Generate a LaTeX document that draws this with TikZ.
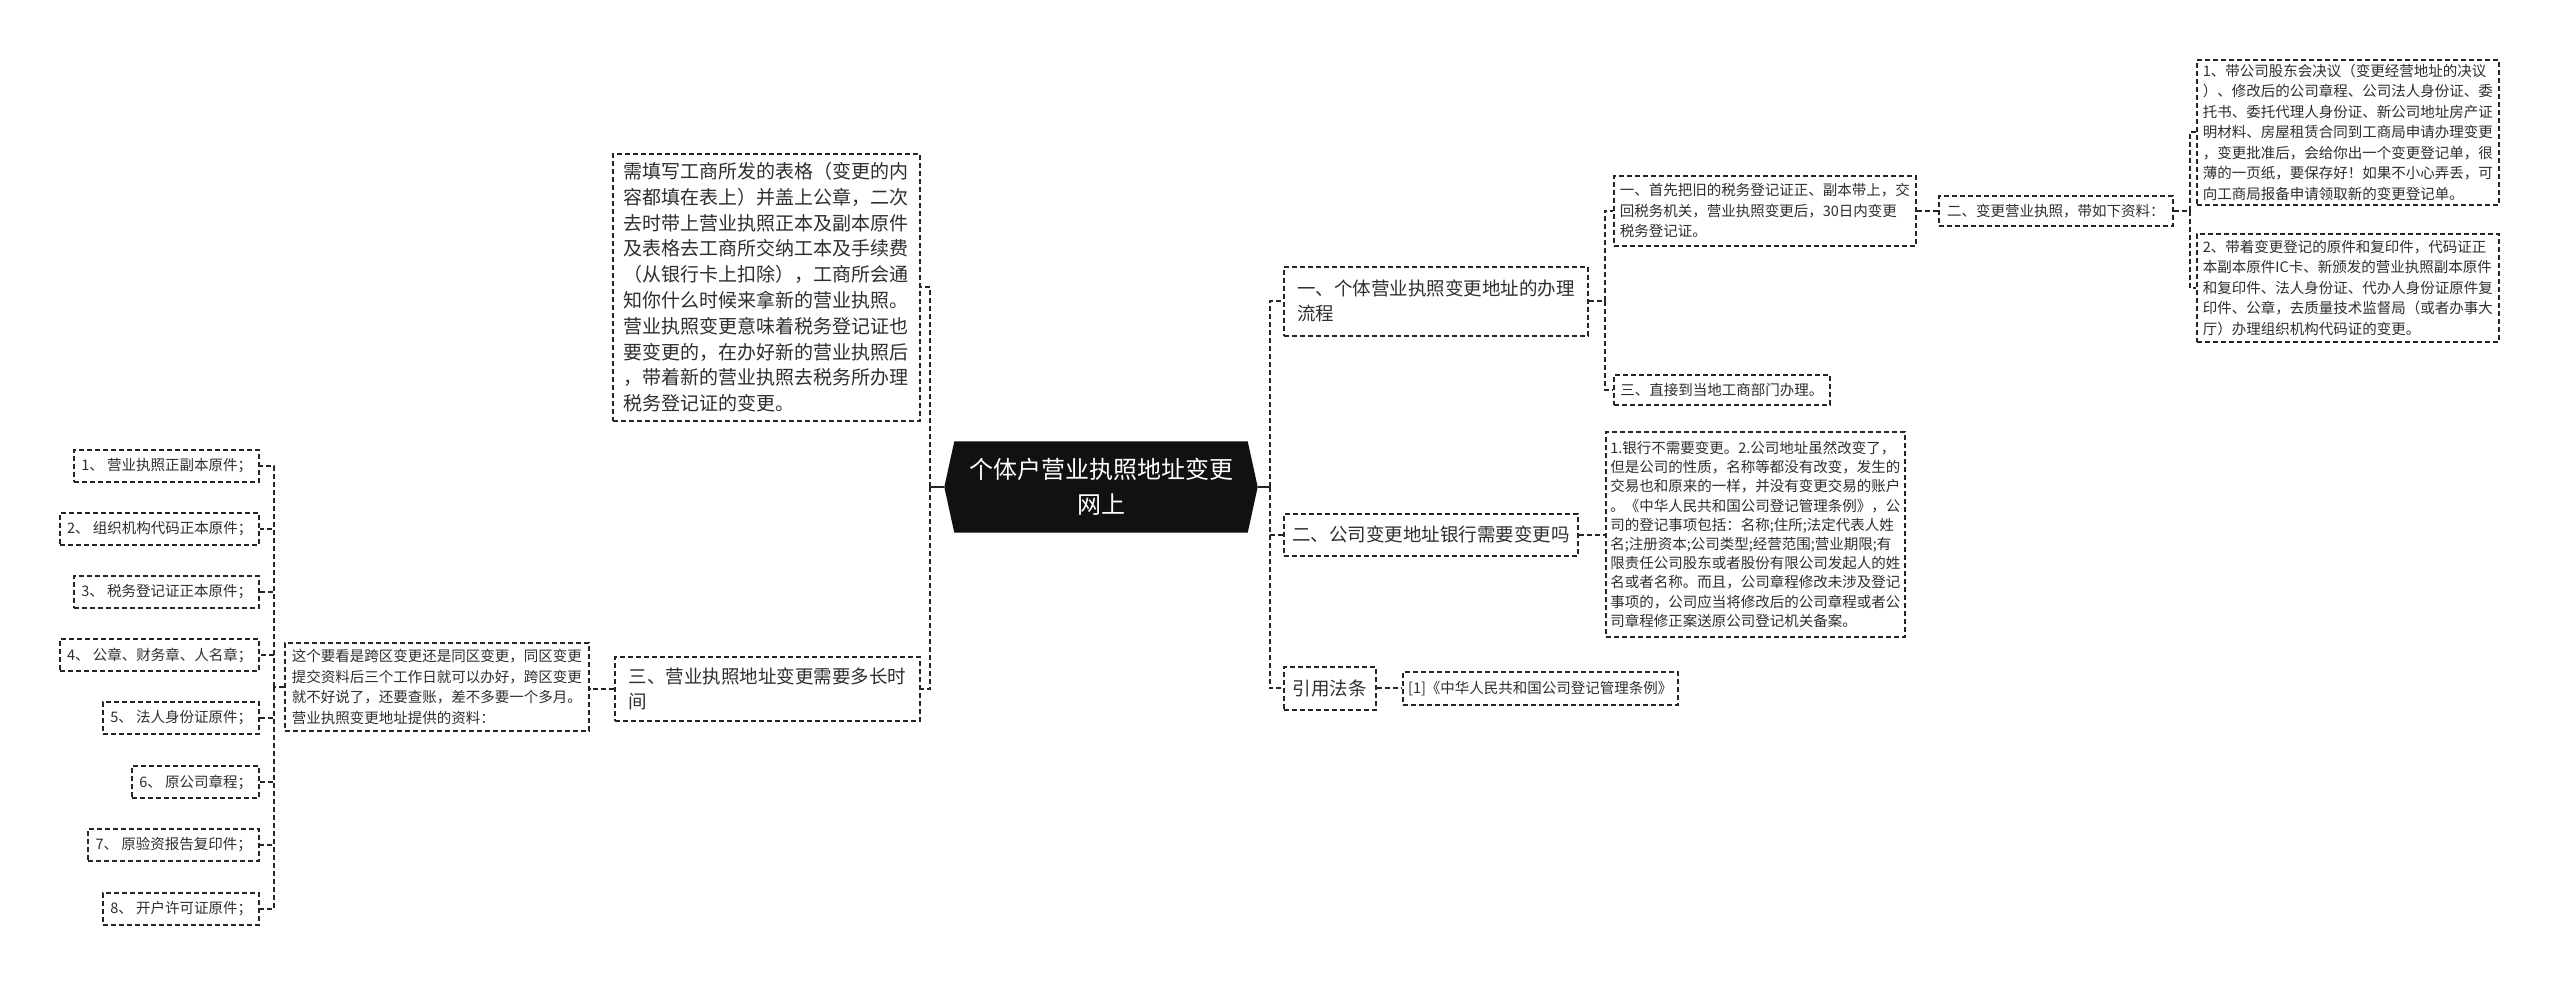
\documentclass[tikz,border=0pt]{standalone}
\usepackage{fontspec}
\setmainfont{Noto Sans CJK SC}
\usetikzlibrary{calc,backgrounds}
\definecolor{linec}{HTML}{262626}
\definecolor{textc}{HTML}{2E2E2E}
\definecolor{rootc}{HTML}{111111}
\begin{document}
\begin{tikzpicture}[x=1pt,y=-1pt,
 box/.style={draw=linec, line width=1.6pt, dash pattern=on 5pt off 3pt, fill=white, inner sep=3pt, align=left, text=textc, anchor=north west},
 sm/.style={font=\fontsize{14.5}{20.5}\selectfont},
 smt/.style={font=\fontsize{14.5}{19.2}\selectfont},
 md/.style={font=\fontsize{18.5}{25}\selectfont},
 lg/.style={font=\fontsize{19}{25.8}\selectfont},
 conn/.style={draw=linec, line width=1.8pt, dash pattern=on 5pt off 3pt},
 rootlink/.style={draw=linec, line width=1.8pt},
 item/.style={box, sm, anchor=east, minimum height=32pt},
]
\useasboundingbox (0,0) rectangle (2560,987);

% root
\node[minimum width=313pt, minimum height=91pt, align=center, text=white,
      font=\fontsize{24}{35}\selectfont] (root) at (1101,487) {个体户营业执照地址变更\\网上};
\begin{pgfonlayer}{background}
\fill[white] (0,0) rectangle (2560,987);
\fill[rootc] ($(root.north west)+(10,0)$) -- ($(root.north east)+(-10,0)$) -- (root.east)
  -- ($(root.south east)+(-10,0)$) -- ($(root.south west)+(10,0)$) -- (root.west) -- cycle;
\end{pgfonlayer}

% right side
\node[box, md, minimum width=304pt, minimum height=69pt] (A) at (1283,266) {一、个体营业执照变更地址的办理\\流程};
\node[box, sm, minimum width=302pt, minimum height=70pt] (A1) at (1613,175) {一、首先把旧的税务登记证正、副本带上，交\\回税务机关，营业执照变更后，30日内变更\\税务登记证。};
\node[box, sm, minimum width=216pt, minimum height=30pt] (A3) at (1613,374) {三、直接到当地工商部门办理。};
\node[box, sm, minimum width=234pt, minimum height=30pt] (A2) at (1938,195) {二、变更营业执照，带如下资料：};
\node[box, sm, minimum width=302pt, minimum height=145pt] (A2a) at (2196,59) {1、带公司股东会决议（变更经营地址的决议\\）、修改后的公司章程、公司法人身份证、委\\托书、委托代理人身份证、新公司地址房产证\\明材料、房屋租赁合同到工商局申请办理变更\\，变更批准后，会给你出一个变更登记单，很\\薄的一页纸，要保存好！如果不小心弄丢，可\\向工商局报备申请领取新的变更登记单。};
\node[box, sm, minimum width=302pt, minimum height=108pt] (A2b) at (2196,233) {2、带着变更登记的原件和复印件，代码证正\\本副本原件IC卡、新颁发的营业执照副本原件\\和复印件、法人身份证、代办人身份证原件复\\印件、公章，去质量技术监督局（或者办事大\\厅）办理组织机构代码证的变更。};
\node[box, md, minimum width=294pt, minimum height=42pt] (B) at (1283,513) {二、公司变更地址银行需要变更吗};
\node[box, smt, minimum width=299pt, minimum height=205pt] (B1) at (1605,431) {1.银行不需要变更。2.公司地址虽然改变了，\\但是公司的性质，名称等都没有改变，发生的\\交易也和原来的一样，并没有变更交易的账户\\。《中华人民共和国公司登记管理条例》，公\\司的登记事项包括：名称;住所;法定代表人姓\\名;注册资本;公司类型;经营范围;营业期限;有\\限责任公司股东或者股份有限公司发起人的姓\\名或者名称。而且，公司章程修改未涉及登记\\事项的，公司应当将修改后的公司章程或者公\\司章程修正案送原公司登记机关备案。};
\node[box, md, minimum width=92pt, minimum height=43pt] (C) at (1283,666) {引用法条};
\node[box, sm, minimum width=275pt, minimum height=33pt] (C1) at (1402,671) {[1]《中华人民共和国公司登记管理条例》};

% left side
\node[box, lg, minimum width=307pt, minimum height=267pt] (D) at (612,153) {需填写工商所发的表格（变更的内\\容都填在表上）并盖上公章，二次\\去时带上营业执照正本及副本原件\\及表格去工商所交纳工本及手续费\\（从银行卡上扣除），工商所会通\\知你什么时候来拿新的营业执照。\\营业执照变更意味着税务登记证也\\要变更的，在办好新的营业执照后\\，带着新的营业执照去税务所办理\\税务登记证的变更。};
\node[box, md, minimum width=305pt, minimum height=64pt] (E) at (614,656) {三、营业执照地址变更需要多长时\\间};
\node[box, sm, minimum width=304pt, minimum height=88pt] (F) at (284,642) {这个要看是跨区变更还是同区变更，同区变更\\提交资料后三个工作日就可以办好，跨区变更\\就不好说了，还要查账，差不多要一个多月。\\营业执照变更地址提供的资料：};

\node[item, minimum width=185pt] (I1) at (260,466) {1、 营业执照正副本原件；};
\node[item, minimum width=199pt] (I2) at (260,529) {2、 组织机构代码正本原件；};
\node[item, minimum width=185pt] (I3) at (260,592) {3、 税务登记证正本原件；};
\node[item, minimum width=199pt] (I4) at (260,655) {4、 公章、财务章、人名章；};
\node[item, minimum width=156pt] (I5) at (260,718) {5、 法人身份证原件；};
\node[item, minimum width=127pt] (I6) at (260,782) {6、 原公司章程；};
\node[item, minimum width=171pt] (I7) at (260,845) {7、 原验资报告复印件；};
\node[item, minimum width=156pt] (I8) at (260,909) {8、 开户许可证原件；};

% spines
\coordinate (rs) at ($(root.east)+(12,0)$);
\coordinate (ls) at ($(root.west)+(-14,0)$);
\coordinate (as) at ($(A.east)+(16,0)$);
\coordinate (a2s) at ($(A2.east)+(16,0)$);
\coordinate (fs) at ($(F.west)+(-10,0)$);

% connectors
\draw[rootlink] (root.east) -- (rs);
\draw[rootlink] (root.west) -- (ls);
\draw[conn] (rs) |- (A.west);
\draw[conn] (rs) |- (B.west);
\draw[conn] (rs) |- (C.west);
\draw[conn] (ls) |- (D.east);
\draw[conn] (ls) |- (E.east);

\draw[conn] (A.east) -- (as);
\draw[conn] (as) |- (A1.west);
\draw[conn] (as) |- (A3.west);
\draw[conn] (A1.east) -- (A1.east -| A2.west);
\draw[conn] (A2.east) -- (a2s);
\draw[conn] (a2s) |- (A2a.west);
\draw[conn] (a2s) |- (A2b.west);
\draw[conn] (B.east) -- (B.east -| B1.west);
\draw[conn] (C.east) -- (C.east -| C1.west);

\draw[conn] (E.west) -- (E.west -| F.east);
\draw[conn] (F.west) -- (fs);
\foreach \i in {I1,I2,I3,I4,I5,I6,I7,I8} {
  \draw[conn] (fs) |- (\i.east);
}
\end{tikzpicture}
\end{document}
